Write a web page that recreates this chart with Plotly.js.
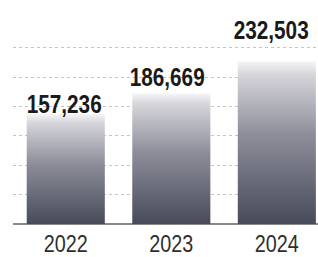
<!DOCTYPE html>
<html>
<head>
<meta charset="utf-8">
<script src="https://cdn.plot.ly/plotly-3.0.1.min.js"></script>
<style>
html,body{margin:0;padding:0;background:#fff;}
#chart{width:318px;height:257px;}
</style>
</head>
<body>
<div id="chart"></div>
<script>
// Data
var years = ['2022', '2023', '2024'];
var values = [157236, 186669, 232503];
var labels = ['157,236', '186,669', '232,503'];

// Label offsets (style, not data)
var labelShiftY = [10, 16, 31];
var labelShiftX = [-2, -4, -6];

var FONT = '"Liberation Sans", Arial, sans-serif';

var trace = {
  type: 'bar',
  x: years,
  y: values,
  marker: {color: '#6a6c7a', line: {width: 0}},
  hoverinfo: 'none'
};

var annotations = years.map(function (yr, i) {
  return {
    x: i, y: values[i], xref: 'x', yref: 'y',
    text: labels[i], showarrow: false,
    yanchor: 'middle', xanchor: 'center',
    yshift: labelShiftY[i], xshift: labelShiftX[i],
    font: {family: FONT, size: 25, color: '#1a1a1a', weight: 700}
  };
});

var layout = {
  width: 318, height: 257,
  margin: {l: 13, r: 0, t: 35, b: 33},
  paper_bgcolor: '#ffffff', plot_bgcolor: '#ffffff',
  showlegend: false,
  bargap: 0.26,
  xaxis: {
    type: 'category',
    range: [-0.5, 2.39],
    showgrid: false, showline: false, zeroline: false,
    ticks: '',
    ticklabelstandoff: 4,
    tickfont: {family: FONT, size: 23, color: '#2e2e2e'},
    fixedrange: true
  },
  yaxis: {
    range: [0, 270000],
    dtick: 42000, tick0: 0,
    showticklabels: false,
    showgrid: true, gridcolor: '#c4c4c4', gridwidth: 1, griddash: 'dot',
    zeroline: true, zerolinecolor: '#8a8a8a', zerolinewidth: 2,
    ticks: '', fixedrange: true
  },
  annotations: annotations
};

Plotly.newPlot('chart', [trace], layout, {displayModeBar: false, staticPlot: true}).then(function (gd) {
  var svg = gd.querySelector('svg.main-svg');
  var ns = 'http://www.w3.org/2000/svg';
  var defs = svg.querySelector('defs') || svg.insertBefore(document.createElementNS(ns, 'defs'), svg.firstChild);
  var grad = document.createElementNS(ns, 'linearGradient');
  grad.setAttribute('id', 'barGrad');
  grad.setAttribute('x1', '0'); grad.setAttribute('y1', '0');
  grad.setAttribute('x2', '0'); grad.setAttribute('y2', '1');
  var stops = [[0, '#f6f6f7'], [0.08, '#d6d6db'], [0.45, '#8d8e9a'], [1, '#474a59']];
  stops.forEach(function (s) {
    var st = document.createElementNS(ns, 'stop');
    st.setAttribute('offset', s[0]);
    st.setAttribute('stop-color', s[1]);
    grad.appendChild(st);
  });
  defs.appendChild(grad);
  gd.querySelectorAll('.bars .point path').forEach(function (p) {
    p.style.fill = 'url(#barGrad)';
  });
  // condense tick labels and value labels horizontally (narrow typeface look)
  gd.querySelectorAll('.xtick text').forEach(function (t) {
    t.setAttribute('textLength', '44');
    t.setAttribute('lengthAdjust', 'spacingAndGlyphs');
  });
  gd.querySelectorAll('.annotation-text').forEach(function (t) {
    t.setAttribute('textLength', '75');
    t.setAttribute('lengthAdjust', 'spacingAndGlyphs');
    var bb = t.getBBox();
    var rect = t.parentNode.querySelector('rect.bg');
    if (rect) {
      rect.setAttribute('x', bb.x - 1);
      rect.setAttribute('width', bb.width + 2);
    }
  });
});
</script>
</body>
</html>
